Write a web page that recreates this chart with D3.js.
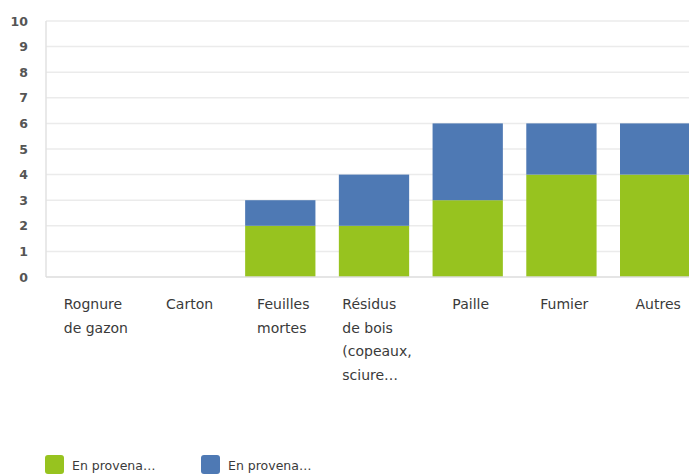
<!DOCTYPE html>
<html>
<head>
<meta charset="utf-8">
<script src="https://cdn.jsdelivr.net/npm/d3@7"></script>
<style>
  html, body { margin: 0; padding: 0; background: #fff; overflow: hidden; }
  svg { display: block; }
  text { font-family: "DejaVu Sans", "Open Sans", sans-serif; }
</style>
</head>
<body>
<svg id="chart" width="689" height="475"></svg>
<script>
// Categories (each entry is a list of wrapped label lines)
const categories = ["Rognure de gazon", "Carton", "Feuilles mortes", "Résidus de bois (copeaux, sciure…", "Paille", "Fumier", "Autres"];
const categoryLines = [
  ["Rognure", "de gazon"],
  ["Carton"],
  ["Feuilles", "mortes"],
  ["Résidus", "de bois", "(copeaux,", "sciure…"],
  ["Paille"],
  ["Fumier"],
  ["Autres"]
];
const seriesNames = ["En provena…", "En provena…"];
const seriesGreen = [0, 0, 2, 2, 3, 4, 4];
const seriesBlue  = [0, 0, 1, 2, 3, 2, 2];
const yTicks = [0, 1, 2, 3, 4, 5, 6, 7, 8, 9, 10];
const colors = ["#97c31f", "#4e79b4"];

const svg = d3.select("#chart");
const plot = { left: 46, top: 21, bottom: 277, right: 702 };

const x = d3.scaleBand()
  .domain(categories)
  .range([plot.left, plot.right])
  .paddingInner(0.25)
  .paddingOuter(0.125);

const y = d3.scaleLinear().domain([0, 10]).range([plot.bottom, plot.top]);

// horizontal grid
svg.append("g")
  .selectAll("line")
  .data(yTicks.filter(d => d > 0))
  .join("line")
  .attr("x1", plot.left).attr("x2", 689)
  .attr("y1", d => y(d)).attr("y2", d => y(d))
  .attr("stroke", "#ebebeb").attr("stroke-width", 1.5);

// left frame line
svg.append("line")
  .attr("x1", plot.left).attr("x2", plot.left)
  .attr("y1", y(10)).attr("y2", y(0))
  .attr("stroke", "#e2e2e2").attr("stroke-width", 1.5);

// y axis labels
const yAxis = d3.axisLeft(y).tickValues(yTicks).tickSize(0).tickPadding(18).tickFormat(d3.format("d"));
const gy = svg.append("g").attr("transform", `translate(${plot.left},0)`).call(yAxis);
gy.select(".domain").remove();
gy.selectAll("text")
  .attr("font-family", "\"Open Sans\", sans-serif")
  .attr("fill", "#555").attr("font-size", 12.5).attr("font-weight", 700);

// stacked bars
const stackData = categories.map((c, i) => ({ cat: c, green: seriesGreen[i], blue: seriesBlue[i] }));
const stacked = d3.stack().keys(["green", "blue"])(stackData);

svg.append("g")
  .selectAll("g")
  .data(stacked)
  .join("g")
  .attr("fill", (d, i) => colors[i])
  .selectAll("rect")
  .data(d => d)
  .join("rect")
  .attr("x", d => x(d.data.cat))
  .attr("width", x.bandwidth())
  .attr("y", d => y(d[1]))
  .attr("height", d => y(d[0]) - y(d[1]));

// baseline
svg.append("line")
  .attr("x1", plot.left).attr("x2", 689)
  .attr("y1", y(0)).attr("y2", y(0))
  .attr("stroke", "#dcdcdc").attr("stroke-width", 1.5);

// x labels: centered block (slightly right of band centre), left-aligned lines
const xl = svg.append("g");
categoryLines.forEach((lines, i) => {
  const t = xl.append("text")
    .attr("font-size", 14)
    .attr("fill", "#3a3a3a");
  lines.forEach((ln, j) => {
    t.append("tspan").attr("x", 0).attr("y", 309 + j * 23.5).text(ln);
  });
  const w = t.node().getBBox().width;
  const cx = x(categories[i]) + x.bandwidth() / 2 + 3;
  t.attr("transform", `translate(${cx - w / 2},0)`);
});

// legend
const legend = svg.append("g");
const legendX = [45, 201];
seriesNames.forEach((name, i) => {
  legend.append("rect")
    .attr("x", legendX[i]).attr("y", 455)
    .attr("width", 19).attr("height", 19)
    .attr("rx", 3)
    .attr("fill", colors[i]);
  legend.append("text")
    .attr("x", legendX[i] + 27).attr("y", 470)
    .attr("font-size", 12.5).attr("fill", "#3a3a3a")
    .text(name);
});
</script>
</body>
</html>
